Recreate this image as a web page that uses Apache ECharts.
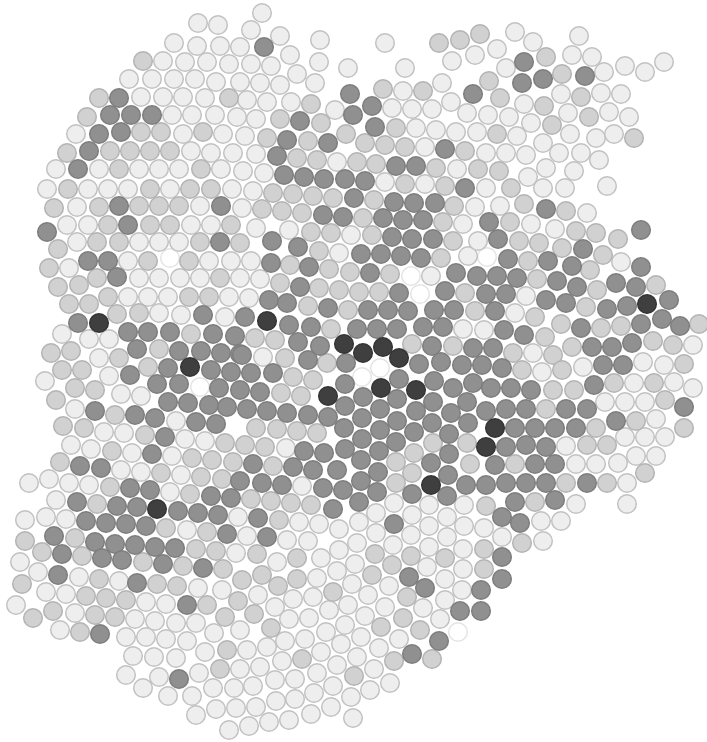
<!DOCTYPE html>
<html><head><meta charset="utf-8">
<script src="https://cdn.jsdelivr.net/npm/echarts@6/dist/echarts.min.js"></script>
<style>html,body{margin:0;padding:0;background:#fff}#c{width:707px;height:742px}</style>
</head><body><div id="c"></div>
<script>
const lightSpots = "198,23 218,25 174,43 197,46 220,46 163,61 185,62 207,62 229,64 129,79 152,79 174,79 195,79 216,82 141,97 163,97 183,97 205,98 172,115 192,115 215,115 76,134 183,134 223,134 191,151 211,153 233,153 56,169 99,169 139,169 159,169 179,169 221,169 47,189 88,189 108,189 128,189 170,189 232,189 77,207 200,206 67,225 88,225 191,225 211,225 77,242 139,242 159,242 179,242 69,268 128,261 209,261 231,261 139,278 159,278 180,278 200,278 240,278 128,297 148,297 168,297 229,297 159,313 181,315 225,317 62,334 89,339 109,339 99,358 45,381 109,376 121,394 141,396 75,409 176,421 104,432 124,433 185,439 205,441 71,445 91,449 132,453 172,456 121,470 141,472 181,475 29,483 49,479 69,483 89,485 170,492 56,500 238,517 25,520 46,517 66,519 187,530 236,553 20,562 38,572 79,577 119,581 198,588 222,590 46,592 66,594 146,602 166,604 16,605 75,613 135,619 155,621 176,623 196,623 60,630 126,637 146,637 166,639 187,641 214,633 240,630 133,656 154,657 176,658 205,652 126,675 159,677 199,673 240,669 143,688 168,696 192,696 213,688 234,688 196,715 216,709 236,708 229,730 277,562 321,558 339,550 357,543 393,545 429,547 463,549 355,564 337,571 317,578 352,584 313,597 293,599 275,607 258,595 427,567 445,579 463,569 389,586 368,595 348,605 329,610 309,618 289,619 462,590 445,600 423,608 385,607 365,616 345,625 326,632 305,639 285,641 267,647 247,650 440,619 361,637 341,644 321,652 282,661 260,667 399,639 379,648 357,657 337,665 317,673 295,679 275,680 253,686 374,669 333,686 314,693 295,699 276,701 256,707 390,683 370,690 351,697 331,707 311,714 289,720 269,722 249,726 353,718 262,13 251,30 280,36 320,40 385,43 240,47 290,55 452,61 319,62 251,64 271,66 348,68 405,68 297,74 240,82 260,83 280,85 315,83 442,83 403,91 247,100 267,102 291,102 335,110 392,108 412,109 432,109 451,102 467,113 237,117 256,119 416,128 436,130 456,132 245,136 425,147 256,154 337,162 457,169 243,171 264,173 385,182 425,184 253,191 242,208 463,224 256,228 289,230 351,235 339,253 468,256 251,261 431,276 260,279 249,298 263,357 463,329 302,486 286,448 394,503 429,505 464,505 376,513 412,515 447,517 299,522 319,524 339,529 359,522 429,526 464,526 376,533 411,535 447,537 247,536 287,540 308,541 515,32 579,36 533,42 497,49 475,55 572,55 592,57 664,62 506,68 604,72 625,66 645,72 561,94 601,93 621,94 524,104 488,115 509,117 568,113 609,112 629,117 531,123 477,132 517,136 570,134 596,138 614,134 543,143 486,153 506,153 526,155 559,153 581,153 599,160 546,168 574,171 528,177 486,188 543,188 565,188 607,186 475,207 500,206 587,213 531,224 555,229 478,241 621,262 526,296 515,313 484,330 533,353 542,372 583,367 643,362 664,365 693,345 693,388 634,383 674,382 605,402 625,402 645,402 656,419 625,437 645,437 665,437 566,446 576,464 596,464 618,463 636,456 656,456 627,483 576,504 627,504 484,528 541,521 561,521 543,541 502,537";
const midSpots = "143,61 99,98 229,98 87,117 141,132 161,132 203,132 67,153 110,151 130,151 150,151 170,151 119,169 201,169 68,189 150,189 190,189 211,189 54,208 99,207 139,206 159,206 179,206 108,225 150,225 170,225 231,225 58,249 97,242 119,242 200,242 240,243 49,268 148,261 189,261 58,287 79,285 97,278 220,278 108,297 189,297 209,297 69,304 89,304 117,314 139,313 191,334 51,353 71,351 119,358 159,349 62,370 82,370 148,367 75,388 95,390 56,400 115,415 63,426 84,428 145,435 225,443 112,451 192,458 212,460 233,462 60,462 161,473 201,477 222,479 110,487 190,494 97,504 166,528 207,532 25,541 75,538 196,549 216,551 42,552 82,556 143,562 183,566 223,569 99,579 157,584 177,586 242,580 22,584 86,596 106,598 126,600 207,605 238,601 33,618 53,611 95,615 115,617 225,617 80,632 227,650 220,669 257,554 297,558 375,554 411,556 445,558 262,575 297,579 278,586 392,565 372,575 333,592 407,597 254,614 271,628 403,618 381,627 302,659 420,630 394,661 432,659 354,676 484,549 484,569 522,543 439,43 460,40 383,89 423,91 311,104 280,119 321,123 396,128 267,138 308,141 346,134 365,143 385,145 405,147 465,151 297,158 317,160 357,162 376,164 436,168 405,184 445,186 273,193 293,194 313,196 333,198 374,200 454,206 262,209 282,211 302,213 363,218 443,222 311,232 331,233 372,235 453,241 319,251 441,258 290,265 329,269 350,272 390,274 280,283 319,288 339,290 359,292 379,292 465,293 308,306 348,310 331,329 412,344 453,346 255,338 275,340 285,358 327,363 293,377 313,380 281,393 301,396 256,428 277,429 297,431 317,433 433,443 467,443 245,445 265,447 414,453 273,466 396,462 412,473 396,483 251,499 271,501 291,503 311,505 279,520 470,464 480,34 546,57 562,74 489,81 500,98 581,97 544,106 589,117 552,125 497,134 634,138 478,169 499,171 511,188 524,204 566,211 510,222 576,231 596,233 618,239 519,241 539,243 562,248 603,255 528,261 590,270 537,279 597,290 656,285 475,311 535,317 586,307 561,324 601,328 621,326 699,324 545,337 572,347 653,341 673,345 513,353 553,355 522,370 562,370 684,364 553,390 574,390 614,383 654,383 546,409 665,400 636,421 684,428 596,428 587,445 607,445 515,464 566,483 607,483 645,473 486,506 535,502";
const darkSpots = "119,98 110,115 131,115 152,115 99,134 121,132 89,151 78,169 119,206 221,206 47,232 128,225 220,242 88,261 108,261 117,277 203,315 78,323 128,332 148,332 170,332 213,334 235,336 137,349 179,351 201,351 221,353 240,354 168,368 211,370 231,372 130,375 157,384 179,384 219,388 240,390 95,411 135,415 155,418 168,402 188,403 209,405 227,407 196,422 216,424 165,437 152,454 80,466 101,468 240,481 130,488 150,490 211,496 231,498 77,502 117,506 137,507 178,511 198,513 218,515 86,521 106,523 126,524 146,526 227,534 54,536 95,542 115,544 135,545 155,547 175,548 62,554 102,558 122,560 163,564 203,568 58,575 137,583 187,605 100,634 179,679 409,577 425,588 460,611 439,641 412,654 481,590 481,611 502,557 502,579 264,47 350,94 473,94 372,106 353,115 300,121 375,127 287,140 328,143 445,149 277,156 396,166 416,166 284,175 304,177 324,179 345,179 365,181 465,188 354,198 394,202 414,203 435,203 323,215 343,217 383,218 403,220 423,220 392,237 412,239 433,239 272,241 298,247 361,254 381,254 401,256 421,258 271,263 309,267 370,273 456,273 300,287 399,293 445,291 269,300 287,303 328,308 368,310 388,310 408,311 434,310 454,310 245,317 289,325 311,327 357,329 377,329 397,329 423,327 443,327 298,342 320,346 432,346 473,348 242,355 308,360 346,363 419,364 441,362 462,365 251,373 273,373 345,384 399,379 434,381 453,388 260,392 363,397 397,399 345,406 380,409 433,402 467,402 247,409 267,411 287,413 308,415 328,417 362,418 397,421 416,411 451,413 432,423 468,423 344,428 380,430 414,432 449,434 362,439 396,442 304,451 324,453 345,449 379,451 449,454 253,464 293,467 313,470 337,470 361,460 431,463 378,472 448,475 361,481 262,483 282,485 323,488 343,490 466,485 377,492 412,494 447,496 359,502 333,509 258,518 394,524 267,537 524,62 585,76 522,83 543,79 546,209 489,222 641,230 498,239 583,249 508,259 548,261 572,266 641,267 477,276 497,276 517,278 557,281 577,287 616,283 636,287 486,294 506,294 546,300 566,303 607,309 627,306 669,300 495,311 581,328 641,324 662,319 680,326 504,330 524,335 592,347 612,347 632,343 493,348 482,365 502,368 603,365 623,365 473,383 491,388 511,388 531,390 594,385 486,411 506,409 526,409 566,409 587,409 684,407 515,428 535,428 555,428 576,428 616,421 506,447 526,445 546,447 495,465 535,464 555,464 486,485 506,483 526,483 546,483 587,483 515,502 555,500 502,517 520,523";
const blackSpots = "99,323 267,321 190,367 157,509 344,344 363,353 383,347 399,358 328,396 381,388 416,390 431,485 495,428 486,447 647,304";
const whiteSpots = "170,258 200,387 380,368 362,377 411,276 420,294 487,257 458,632";

const parse = s => s.split(" ").map(p => p.split(",").map(Number));
const levels = [
  {name:"white", spots:whiteSpots, fill:"#ffffff", edge:"#e4e4e4"},
  {name:"light", spots:lightSpots, fill:"#eeeeee", edge:"#c2c2c2"},
  {name:"mid",   spots:midSpots,   fill:"#d1d1d1", edge:"#b4b4b4"},
  {name:"dark",  spots:darkSpots,  fill:"#909090", edge:"#7e7e7e"},
  {name:"black", spots:blackSpots, fill:"#3f3f3f", edge:"#353535"}
];
const chart = echarts.init(document.getElementById("c"), null, {renderer:"canvas"});
chart.setOption({
  animation:false,
  backgroundColor:"#ffffff",
  grid:{left:0,right:0,top:0,bottom:0},
  xAxis:{type:"value",min:0,max:707,show:false},
  yAxis:{type:"value",min:0,max:742,inverse:true,show:false},
  series:levels.map(l=>({
    type:"scatter",name:l.name,symbol:"circle",symbolSize:18.6,
    data:parse(l.spots),
    itemStyle:{color:l.fill,borderColor:l.edge,borderWidth:1.5,opacity:1}
  }))
});
</script></body></html>
